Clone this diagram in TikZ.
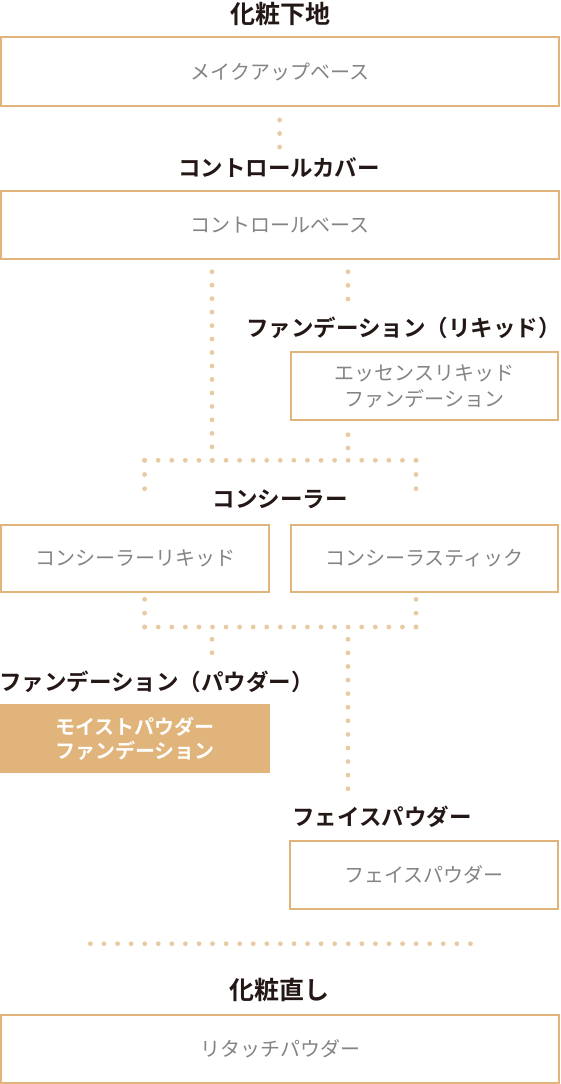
\documentclass[tikz,border=0pt]{standalone}
\usepackage{fontspec}
\newfontfamily\jp{Noto Sans CJK JP}
\newfontfamily\jpb{Noto Sans CJK JP Bold}
\usetikzlibrary{calc}
\definecolor{tan}{RGB}{224,180,122}
\definecolor{dotc}{RGB}{232,203,162}
\definecolor{graytxt}{RGB}{132,132,132}
\definecolor{titlec}{RGB}{35,24,21}
\newcommand\dotrun[3]{\foreach \i in {0,...,#3}{\fill[dotc] ($(#1)!{\i/#3}!(#2)$) circle[radius=2.4pt];}}
\begin{document}
\begin{tikzpicture}[x=1pt,y=-1pt,
  box/.style={draw=tan,line width=2pt,inner sep=0pt,fill=white,
    font=\jp\fontsize{20}{26}\selectfont,text=graytxt,align=center},
  fbox/.style={fill=tan,inner sep=0pt,
    font=\jpb\fontsize{20}{24}\selectfont,text=white,align=center},
  ttl/.style={inner sep=0pt,font=\jpb\fontsize{22.5}{26}\selectfont,text=titlec},
  kttl/.style={ttl,font=\jpb\fontsize{25}{28}\selectfont}]
\useasboundingbox (0,0) rectangle (560,1084);
% titles
\node[kttl] (t1) at (280,14) {化粧下地};
\node[ttl] (t2) at (279,168) {コントロールカバー};
\node[ttl,anchor=east] (t3) at (561,328) {ファンデーション（リキッド）};
\node[ttl] (t4) at (280,499) {コンシーラー};
\node[ttl,anchor=west] (t5) at (-1,682) {ファンデーション（パウダー）};
\node[ttl,anchor=west] (t6) at (292,817) {フェイスパウダー};
\node[kttl] (t7) at (279,990) {化粧直し};
% boxes
\node[box,minimum width=558pt,minimum height=68.5pt] (b1) at (280,71.7) {メイクアップベース};
\node[box,minimum width=558pt,minimum height=68pt] (b2) at (280,224.7) {コントロールベース};
\node[box,minimum width=267pt,minimum height=67.4pt] (b3) at (424.5,386) {エッセンスリキッド\\ファンデーション};
\node[box,minimum width=268pt,minimum height=67.3pt] (b4) at (135,558.7) {コンシーラーリキッド};
\node[box,minimum width=267pt,minimum height=67.3pt] (b5) at (424.5,558.7) {コンシーラスティック};
\node[fbox,minimum width=269.6pt,minimum height=69.3pt] (b6) at (134.8,738.7) {モイストパウダー\\ファンデーション};
\node[box,minimum width=268pt,minimum height=68pt] (b7) at (424,875) {フェイスパウダー};
\node[box,minimum width=558pt,minimum height=67.7pt] (b8) at (280,1049) {リタッチパウダー};
% dotted connector points
\coordinate (a1) at (279.6,120);   \coordinate (a2) at (279.6,147);
\coordinate (l1) at (212,271.7);   \coordinate (l2) at (212,460.3);
\coordinate (r1) at (348,271.7);   \coordinate (r2) at (348,299);
\coordinate (r3) at (348,434.7);   \coordinate (r4) at (348,448);
\coordinate (h1) at (144.6,460.3); \coordinate (h2) at (416,460.3);
\coordinate (h1d) at (144.6,488.7);\coordinate (h2d) at (416,488.7);
\coordinate (c1) at (144.6,599.3); \coordinate (c2) at (144.6,627);
\coordinate (c3) at (416,599.3);   \coordinate (c4) at (416,627);
\coordinate (p1) at (212,639.3);   \coordinate (p2) at (212,652.7);
\coordinate (q1) at (348,639.3);   \coordinate (q2) at (348,788.7);
\coordinate (s1) at (90.4,943.7);  \coordinate (s2) at (470.4,943.7);
\dotrun{a1}{a2}{2}
\dotrun{l1}{l2}{14}
\dotrun{r1}{r2}{2}
\dotrun{r3}{r4}{1}
\dotrun{h1}{h2}{20}
\dotrun{h1}{h1d}{2}
\dotrun{h2}{h2d}{2}
\dotrun{c1}{c2}{2}
\dotrun{c3}{c4}{2}
\dotrun{c2}{c4}{20}
\dotrun{p1}{p2}{1}
\dotrun{q1}{q2}{11}
\dotrun{s1}{s2}{28}
\end{tikzpicture}
\end{document}
